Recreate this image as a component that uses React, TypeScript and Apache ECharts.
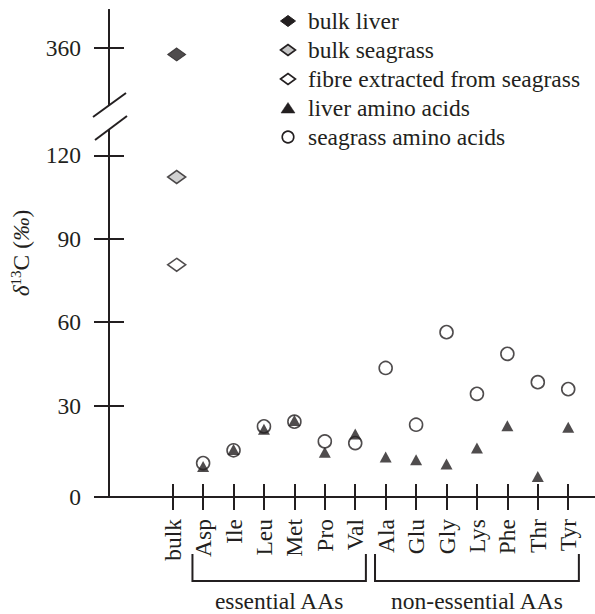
import React, { useEffect, useRef } from 'react';
import * as echarts from 'echarts';

// ---------- data ----------
const categories = ['bulk', 'Asp', 'Ile', 'Leu', 'Met', 'Pro', 'Val', 'Ala', 'Glu', 'Gly', 'Lys', 'Phe', 'Thr', 'Tyr'];
const bulkLiver = [357.7];
const bulkSeagrass = [112.2];
const fibreSeagrass = [80.6];
const liverAA = [null, 8.1, 14.2, 21.5, 24.6, 13.2, 19.8, 11.5, 10.5, 9.0, 14.7, 22.7, 4.5, 22.2];
const seagrassAA = [null, 9.3, 13.9, 22.5, 24.2, 17.1, 16.5, 43.5, 23.1, 56.4, 34.2, 48.6, 38.4, 35.9];
const lowerTickLabels = ['0', '30', '60', '90', '120'];
const upperTickLabels = ['360'];
const legendNames = ['bulk liver', 'bulk seagrass', 'fibre extracted from seagrass', 'liver amino acids', 'seagrass amino acids'];
const groups = [
  { name: 'essential AAs', from: 'Asp', to: 'Val' },
  { name: 'non-essential AAs', from: 'Ala', to: 'Tyr' },
];

// ---------- layout / style ----------
const INK = '#231f20';
const GREY = '#c6c6c6';
const FONT = '"Liberation Serif", "Times New Roman", serif';
const FS = 23.5;
const AX_LEFT = 109;
const LOW_TOP = 130;
const LOW_H = 367;
const LOW_MIN = -2.9;
const LOW_MAX = 129.1;
const UP_TOP = 10;
const UP_H = 95;
const UP_MIN = 339.5;
const UP_MAX = 373.7;
const X_MIN = -2.093;
const X_MAX = 13.88;
const LEG_X = 288;
const LEG_Y = 21;
const LEG_STEP = 29;

const catIdx = categories.map((_, i) => i);
const lowerTickValues = lowerTickLabels.map((s) => (Number(s) === 0 ? LOW_MIN : Number(s)));
const upperTickValues = upperTickLabels.map(Number);

const toPairs = (arr: (number | null)[]) =>
  arr.map((v, i) => (v == null ? null : [i, v])).filter((d) => d !== null) as number[][];

const seriesStyles = [
  { symbol: 'diamond', fill: INK, size: [18, 13], border: 1 },
  { symbol: 'diamond', fill: GREY, size: [18, 13], border: 1.6 },
  { symbol: 'diamond', fill: '#ffffff', size: [18, 13], border: 1.6 },
  { symbol: 'triangle', fill: INK, size: [12, 11], border: 0 },
  { symbol: 'circle', fill: '#ffffff', size: [13, 13], border: 1.6 },
];

function legendIcon(kind: string, fill: string, border: number, cx: number, cy: number) {
  const style = { fill, stroke: INK, lineWidth: border || 0.5 };
  if (kind === 'diamond') {
    return { type: 'polygon', silent: true, shape: { points: [[cx - 7.5, cy], [cx, cy - 5.5], [cx + 7.5, cy], [cx, cy + 5.5]] }, style };
  }
  if (kind === 'triangle') {
    return { type: 'polygon', silent: true, shape: { points: [[cx - 7, cy + 5], [cx + 7, cy + 5], [cx, cy - 5.5]] }, style };
  }
  return { type: 'circle', silent: true, shape: { cx, cy, r: 5.8 }, style };
}

export default function App() {
  const ref = useRef<HTMLDivElement>(null);
  useEffect(() => {
    const chart = echarts.init(ref.current!, null, { renderer: 'svg' });
    const axisLine = { show: true, onZero: false, lineStyle: { color: INK, width: 2 } };
    const tickStyle = { color: INK, width: 2 };
    const xBase = (gridIndex: number) => ({
      type: 'value' as const,
      gridIndex,
      min: X_MIN,
      max: X_MAX,
      splitLine: { show: false },
    });
    const yLabelFmt = (labels: string[], values: number[]) => (v: number) => {
      const k = values.findIndex((t) => Math.abs(t - v) < 1e-6);
      return k >= 0 ? labels[k] : '';
    };
    const seriesData = [
      bulkLiver.map((v) => [categories.indexOf('bulk'), v]),
      bulkSeagrass.map((v) => [categories.indexOf('bulk'), v]),
      fibreSeagrass.map((v) => [categories.indexOf('bulk'), v]),
      toPairs(liverAA),
      toPairs(seagrassAA),
    ];
    const option: any = {
      animation: false,
      backgroundColor: '#ffffff',
      textStyle: { fontFamily: FONT, color: INK, fontSize: FS },
      grid: [
        { left: AX_LEFT, top: LOW_TOP, height: LOW_H, right: 0 },
        { left: AX_LEFT, top: UP_TOP, height: UP_H, right: 0 },
      ],
      xAxis: [
        {
          ...xBase(0),
          position: 'bottom',
          axisLine,
          axisTick: { show: true, inside: true, length: 13, lineStyle: tickStyle, customValues: catIdx },
          axisLabel: { show: false },
        },
        {
          ...xBase(0),
          position: 'bottom',
          axisLine,
          axisTick: { show: true, inside: false, length: 13, lineStyle: tickStyle, customValues: catIdx },
          axisLabel: {
            show: true,
            customValues: catIdx,
            formatter: (v: number) => categories[Math.round(v)] ?? '',
            rotate: 90,
            margin: 22,
            fontFamily: FONT,
            fontSize: FS,
            color: INK,
          },
        },
        {
          ...xBase(1),
          show: false,
        },
      ],
      yAxis: [
        {
          type: 'value', gridIndex: 0, min: LOW_MIN, max: LOW_MAX, position: 'left',
          splitLine: { show: false }, axisLine,
          axisTick: { show: true, inside: true, length: 15, lineStyle: tickStyle, customValues: lowerTickValues },
          axisLabel: { show: false },
        },
        {
          type: 'value', gridIndex: 0, min: LOW_MIN, max: LOW_MAX, position: 'left',
          splitLine: { show: false }, axisLine,
          axisTick: { show: true, inside: false, length: 15, lineStyle: tickStyle, customValues: lowerTickValues },
          axisLabel: {
            show: true, customValues: lowerTickValues, margin: 28,
            formatter: yLabelFmt(lowerTickLabels, lowerTickValues),
            fontFamily: FONT, fontSize: FS, color: INK,
          },
        },
        {
          type: 'value', gridIndex: 1, min: UP_MIN, max: UP_MAX, position: 'left',
          splitLine: { show: false }, axisLine,
          axisTick: { show: true, inside: true, length: 15, lineStyle: tickStyle, customValues: upperTickValues },
          axisLabel: { show: false },
        },
        {
          type: 'value', gridIndex: 1, min: UP_MIN, max: UP_MAX, position: 'left',
          splitLine: { show: false }, axisLine,
          axisTick: { show: true, inside: false, length: 15, lineStyle: tickStyle, customValues: upperTickValues },
          axisLabel: {
            show: true, customValues: upperTickValues, margin: 28,
            formatter: yLabelFmt(upperTickLabels, upperTickValues),
            fontFamily: FONT, fontSize: FS, color: INK,
          },
        },
      ],
      series: legendNames.map((name, k) => {
        const st = seriesStyles[k];
        const isBulk = k < 3;
        return {
          name,
          type: 'scatter',
          xAxisIndex: k === 0 ? 2 : 0,
          yAxisIndex: k === 0 ? 2 : 0,
          z: k === 3 ? 4 : 3,
          symbol: st.symbol,
          symbolSize: st.size,
          symbolOffset: isBulk ? [4, 0] : [0, 0],
          itemStyle: { color: st.fill, borderColor: INK, borderWidth: st.border },
          data: seriesData[k],
        };
      }),
    };
    chart.setOption(option);

    const px = (v: number) => chart.convertToPixel({ xAxisIndex: 0 } as any, v) as unknown as number;
    const graphics: any[] = [];
    // legend
    legendNames.forEach((name, k) => {
      const st = seriesStyles[k];
      const cy = LEG_Y + k * LEG_STEP;
      graphics.push(legendIcon(st.symbol, st.fill, st.border, LEG_X, cy));
      graphics.push({
        type: 'text', silent: true, x: LEG_X + 20, y: cy,
        style: { text: name, fontFamily: FONT, fontSize: FS, fill: INK, align: 'left', verticalAlign: 'middle' },
      });
    });
    // axis break marks
    const upBottom = UP_TOP + UP_H;
    graphics.push({
      type: 'line', silent: true,
      shape: { x1: AX_LEFT - 16, y1: upBottom + 12, x2: AX_LEFT + 17, y2: upBottom - 12 },
      style: { stroke: INK, lineWidth: 2 },
    });
    graphics.push({
      type: 'line', silent: true,
      shape: { x1: AX_LEFT - 14, y1: LOW_TOP + 10, x2: AX_LEFT + 18, y2: LOW_TOP - 14 },
      style: { stroke: INK, lineWidth: 2 },
    });
    // y axis title
    graphics.push({
      type: 'text', x: 21, y: 253, rotation: Math.PI / 2, silent: true,
      style: {
        text: '{i|δ}{s|13}{r|C (}{i|‰}{r|)}',
        align: 'center', verticalAlign: 'middle',
        rich: {
          i: { fontFamily: FONT, fontSize: FS, fontStyle: 'italic', fill: INK, color: INK },
          s: { fontFamily: FONT, fontSize: 15, fill: INK, color: INK, padding: [0, 0, 11, 0] },
          r: { fontFamily: FONT, fontSize: FS, fill: INK, color: INK },
        },
      },
    });
    // group brackets
    groups.forEach((g) => {
      const x1 = px(categories.indexOf(g.from) - 0.35);
      const x2 = px(categories.indexOf(g.to) + 0.35);
      graphics.push({
        type: 'polyline', silent: true,
        shape: { points: [[x1, 554], [x1, 581], [x2, 581], [x2, 554]] },
        style: { stroke: INK, lineWidth: 2, fill: null },
      });
      graphics.push({
        type: 'text', silent: true, x: (x1 + x2) / 2, y: 601,
        style: {
          text: g.name, fontFamily: FONT, fontSize: FS, lineHeight: 22, fill: INK,
          align: 'center', verticalAlign: 'middle',
        },
      });
    });
    chart.setOption({ graphic: graphics });
    return () => chart.dispose();
  }, []);
  return <div ref={ref} style={{ position: 'fixed', left: 0, top: 0, width: 595, height: 614 }} />;
}
